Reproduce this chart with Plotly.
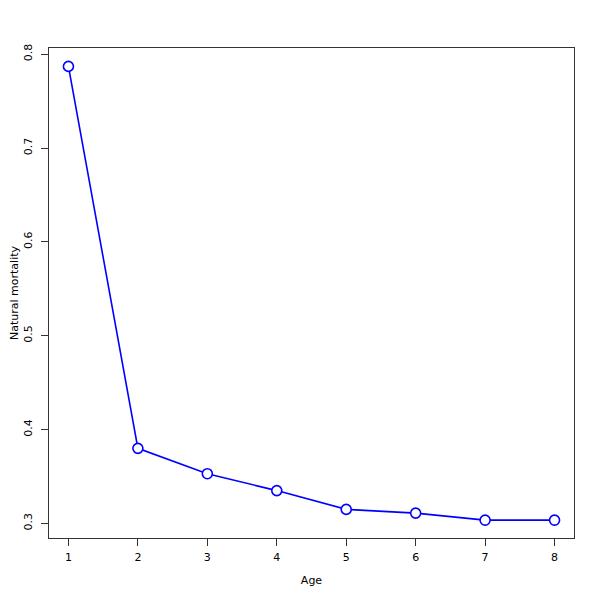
import plotly.graph_objects as go

ages = [1, 2, 3, 4, 5, 6, 7, 8]
natural_mortality = [0.787, 0.380, 0.353, 0.335, 0.315, 0.311, 0.3035, 0.3035]
x_ticks = [1, 2, 3, 4, 5, 6, 7, 8]
y_ticks = [0.3, 0.4, 0.5, 0.6, 0.7, 0.8]

fig = go.Figure()
fig.add_trace(go.Scatter(
    x=ages, y=natural_mortality, mode="lines+markers",
    line=dict(color="#0000FF", width=1.6),
    marker=dict(symbol="circle", size=10, color="white",
                line=dict(color="#0000FF", width=1.6)),
    showlegend=False,
))

font = dict(family="DejaVu Sans", size=11, color="black")
fig.update_layout(
    width=600, height=600,
    margin=dict(l=41, r=34, t=40, b=70, autoexpand=False),
    paper_bgcolor="white", plot_bgcolor="white",
    font=font,
    xaxis=dict(
        range=[0.72, 8.28], tickvals=x_ticks, ticktext=[str(v) for v in x_ticks],
        showgrid=False, zeroline=False, showline=True, mirror=True,
        linecolor="#333333", linewidth=1, ticks="outside", ticklen=7,
        tickcolor="#333333", ticklabelstandoff=2, automargin=False,
        title=dict(text="Age", standoff=13, font=font),
    ),
    yaxis=dict(
        range=[0.2845, 0.8066], tickvals=y_ticks, ticktext=[str(v) for v in y_ticks],
        showgrid=False, zeroline=False, showline=True, mirror=True,
        linecolor="#333333", linewidth=1, ticks="outside", ticklen=7,
        tickcolor="#333333", tickangle=-90, ticklabelstandoff=5, automargin=False,
    ),
    annotations=[dict(
        text="Natural mortality", xref="paper", yref="paper", x=0, y=0.5,
        xanchor="center", yanchor="middle", xshift=-35, textangle=-90,
        showarrow=False, font=font,
    )],
)
fig.write_html("out.html")
